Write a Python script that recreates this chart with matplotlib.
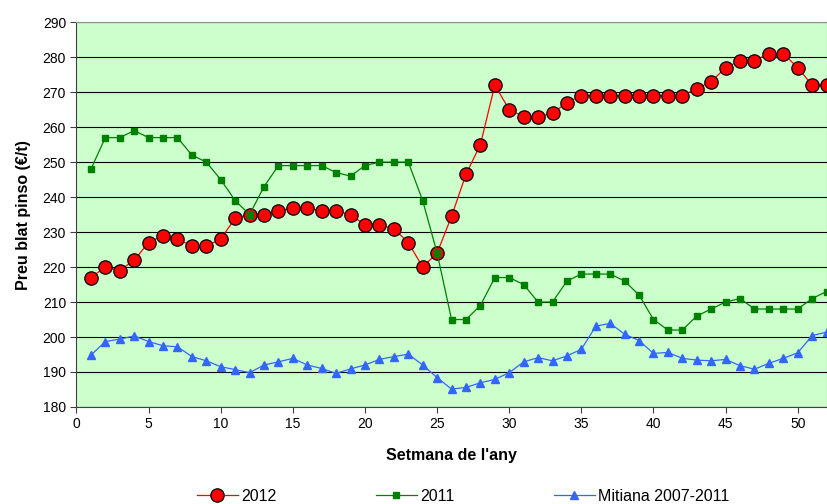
import matplotlib
matplotlib.use("Agg")
import matplotlib.pyplot as plt

plt.rcParams['font.family'] = ['Liberation Sans', 'DejaVu Sans']

# setmanes 1..52
setmanes = list(range(1, 53))

preu_2012 = [217, 220, 219, 222, 227, 229, 228, 226, 226, 228,
             234, 235, 235, 236, 237, 237, 236, 236, 235, 232,
             232, 231, 227, 220, 224, 234.5, 246.5, 255, 272, 265,
             263, 263, 264, 267, 269, 269, 269, 269, 269, 269,
             269, 269, 271, 273, 277, 279, 279, 281, 281, 277,
             272, 272]

preu_2011 = [248, 257, 257, 259, 257, 257, 257, 252, 250, 245,
             239, 235, 243, 249, 249, 249, 249, 247, 246, 249,
             250, 250, 250, 239, 224, 205, 205, 209, 217, 217,
             215, 210, 210, 216, 218, 218, 218, 216, 212, 205,
             202, 202, 206, 208, 210, 211, 208, 208, 208, 208,
             211, 213]

mitjana = [194.8, 198.7, 199.4, 200.3, 198.7, 197.5, 197.2, 194.4, 193.2, 191.5,
           190.7, 189.8, 192, 192.9, 193.9, 192, 191, 189.6, 190.9, 192,
           193.6, 194.4, 195.1, 192, 188.4, 185.1, 185.6, 186.9, 187.9, 189.8,
           192.9, 194.1, 193.2, 194.6, 196.5, 203.1, 203.9, 200.8, 199, 195.3,
           195.6, 193.9, 193.4, 193.2, 193.6, 191.8, 190.8, 192.5, 193.9, 195.5,
           200.4, 201.4]

fig = plt.figure(figsize=(8.27, 5.04), dpi=100)
ax = fig.add_axes([0.0925, 0.1925, 0.907, 0.7635])
ax.set_facecolor('#CCFFCC')

ax.plot(setmanes, preu_2012, color='#FF0000', lw=0.9, marker='o', ms=9.6,
        mfc='#FF0000', mec='black', mew=0.9, label='2012', zorder=3)
ax.plot(setmanes, preu_2011, color='#008000', lw=0.9, marker='s', ms=4.2,
        mfc='#008000', mec='#008000', label='2011', zorder=4)
ax.plot(setmanes, mitjana, color='#3366FF', lw=0.9, marker='^', ms=5.5,
        mfc='#3366FF', mec='#3366FF', label='Mitiana 2007-2011', zorder=3)

ax.set_xlim(0, 52)
ax.set_ylim(180, 290)
ax.set_xticks(range(0, 51, 5))
ax.set_yticks(range(180, 291, 10))
ax.yaxis.grid(True, color='black', lw=0.8)
ax.set_axisbelow(True)
ax.tick_params(axis='both', labelsize=10, direction='out', length=4, color='#404040')

for s in ['top', 'right']:
    ax.spines[s].set_color('#909090')
for s in ['left', 'bottom']:
    ax.spines[s].set_color('#404040')

ax.set_xlabel("Setmana de l'any", fontsize=11.5, fontweight='bold', labelpad=12)
ax.set_ylabel("Preu blat pinso (€/t)", fontsize=11.5, fontweight='bold', labelpad=8)

fig.legend(loc='center', bbox_to_anchor=(0.56, 0.015), ncol=3, frameon=False,
           fontsize=11.5, columnspacing=6.2, handlelength=2.6, handletextpad=0.2)

fig.savefig('out.png', dpi=100)
